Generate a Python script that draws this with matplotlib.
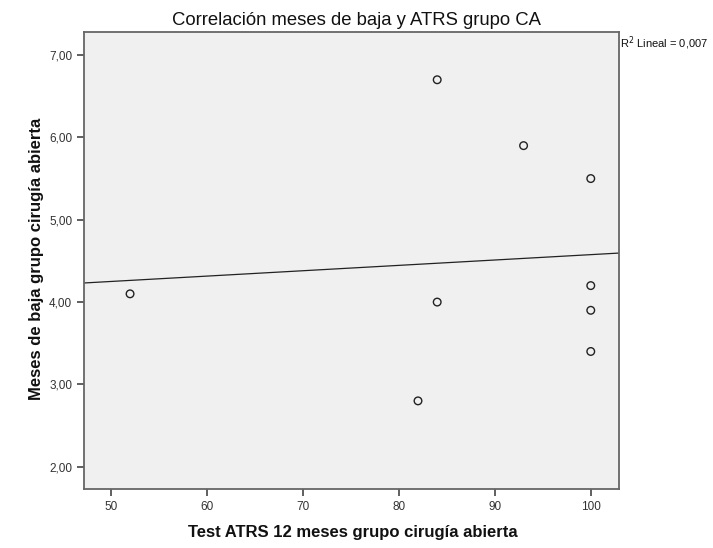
import numpy as np
import matplotlib.pyplot as plt
from matplotlib.ticker import FuncFormatter

plt.rcParams['font.family'] = ['Liberation Sans', 'DejaVu Sans']

# datos: ATRS a 12 meses vs meses de baja (grupo cirugía abierta)
atrs = [84, 93, 100, 100, 100, 100, 84, 82, 52]
meses = [6.7, 5.9, 5.5, 4.2, 3.9, 3.4, 4.0, 2.8, 4.1]
xticks = [50, 60, 70, 80, 90, 100]
yticks = [2, 3, 4, 5, 6, 7]

x = np.array(atrs, dtype=float)
y = np.array(meses, dtype=float)
b, a = np.polyfit(x, y, 1)
r2 = np.corrcoef(x, y)[0, 1] ** 2

fig = plt.figure(figsize=(7.13, 5.48), dpi=100)
ax = fig.add_axes([0.1178, 0.1077, 0.7498, 0.8339])
ax.set_facecolor('#f0f0f0')

xlim = (47.2, 102.9)
xx = np.array(xlim)
ax.plot(xx, a + b * xx, color='#222222', lw=0.9, zorder=2)
ax.scatter(x, y, s=30, facecolors='none', edgecolors='#222222', linewidths=1.0, zorder=3)

ax.set_xlim(*xlim)
ax.set_ylim(1.73, 7.28)
ax.set_xticks(xticks)
ax.set_yticks(yticks)
ax.yaxis.set_major_formatter(FuncFormatter(lambda v, p: f'{v:.2f}'.replace('.', ',')))
ax.tick_params(direction='out', length=5, width=1.2, color='#444444',
               labelsize=8.5, labelcolor='#333333')
for s in ax.spines.values():
    s.set_color('#666666')
    s.set_linewidth(1.3)

# títulos
fig.text(0.500, 0.9544, 'Correlación meses de baja y ATRS grupo CA', fontsize=13.3,
         color='#111111', ha='center', va='baseline')
fig.text(0.4944, 0.0201, 'Test ATRS 12 meses grupo cirugía abierta', fontsize=12,
         fontweight='bold', color='#111111', ha='center', va='baseline')
fig.text(0.0505, 0.5283, 'Meses de baja grupo cirugía abierta', fontsize=12,
         fontweight='bold', color='#111111', ha='center', va='center', rotation=90)

r2_txt = f'{r2:.3f}'.replace('.', ',')
fig.text(0.869, 0.922, f'R$^2$ Lineal = {r2_txt}', fontsize=8, color='#111111',
         ha='left', va='center')

fig.savefig('out.png', dpi=100)
